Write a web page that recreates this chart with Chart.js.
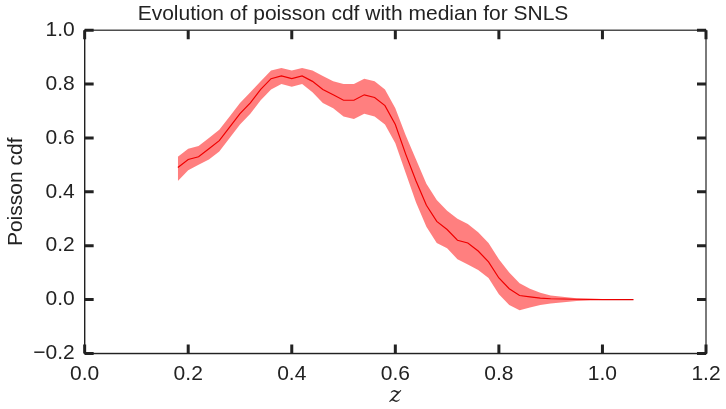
<!DOCTYPE html>
<html>
<head>
<meta charset="utf-8">
<script src="https://cdn.jsdelivr.net/npm/chart.js@4"></script>
<style>
html, body { margin: 0; padding: 0; background: #fff; }
#wrap { width: 726px; height: 409px; }
</style>
</head>
<body>
<div id="wrap"><canvas id="c"></canvas></div>
<script>
const zValues = [0.18,0.20,0.22,0.24,0.26,0.28,0.30,0.32,0.34,0.36,0.38,0.40,0.42,0.44,0.46,0.48,0.50,0.52,0.54,0.56,0.58,0.60,0.62,0.64,0.66,0.68,0.70,0.72,0.74,0.76,0.78,0.80,0.82,0.84,0.86,0.88,0.90,0.95,1.00,1.06];
const medianCdf = [0.49,0.52,0.53,0.56,0.59,0.64,0.69,0.73,0.78,0.82,0.83,0.82,0.83,0.81,0.78,0.76,0.74,0.74,0.76,0.75,0.72,0.65,0.54,0.44,0.35,0.29,0.26,0.22,0.21,0.18,0.14,0.08,0.04,0.015,0.01,0.005,0.003,0.001,0.0,0.0];
const upperCdf = [0.53,0.56,0.57,0.60,0.63,0.68,0.73,0.77,0.81,0.85,0.86,0.85,0.86,0.85,0.83,0.81,0.80,0.80,0.82,0.81,0.78,0.71,0.61,0.52,0.43,0.37,0.33,0.30,0.28,0.25,0.21,0.15,0.10,0.06,0.04,0.025,0.015,0.005,0.002,0.0];
const lowerCdf = [0.44,0.48,0.50,0.52,0.55,0.60,0.65,0.69,0.74,0.78,0.80,0.79,0.80,0.77,0.73,0.71,0.68,0.67,0.69,0.68,0.65,0.58,0.47,0.36,0.27,0.21,0.19,0.15,0.13,0.11,0.08,0.02,-0.02,-0.04,-0.03,-0.02,-0.015,-0.005,-0.002,0.0];
const xTicks = [0.0,0.2,0.4,0.6,0.8,1.0,1.2];
const yTicks = [-0.2,0.0,0.2,0.4,0.6,0.8,1.0];

const pts = arr => zValues.map((z, i) => ({ x: z, y: arr[i] }));

// inward ticks on all four sides, matplotlib classic style
const tickMarks = {
  id: 'tickMarks',
  afterDraw(chart) {
    const { ctx, chartArea: a, scales: { x, y } } = chart;
    ctx.save();
    ctx.strokeStyle = '#222';
    ctx.lineWidth = 3;
    ctx.beginPath();
    xTicks.forEach(v => {
      const px = x.getPixelForValue(v);
      ctx.moveTo(px, a.bottom); ctx.lineTo(px, a.bottom - 9);
      ctx.moveTo(px, a.top); ctx.lineTo(px, a.top + 9);
    });
    yTicks.forEach(v => {
      const py = y.getPixelForValue(v);
      ctx.moveTo(a.left, py); ctx.lineTo(a.left + 9, py);
      ctx.moveTo(a.right, py); ctx.lineTo(a.right - 9, py);
    });
    ctx.stroke();
    ctx.lineWidth = 1.2;
    ctx.strokeRect(a.left, a.top, a.right - a.left, a.bottom - a.top);
    ctx.restore();
  }
};

new Chart(document.getElementById('c'), {
  type: 'line',
  data: {
    datasets: [
      { data: pts(upperCdf), borderWidth: 0, pointRadius: 0, fill: '+1', backgroundColor: 'rgba(255,0,0,0.5)', tension: 0 },
      { data: pts(lowerCdf), borderWidth: 0, pointRadius: 0, fill: false, tension: 0 },
      { data: pts(medianCdf), borderColor: '#e00000', borderWidth: 1.2, pointRadius: 0, fill: false, tension: 0 }
    ]
  },
  options: {
    responsive: true,
    maintainAspectRatio: false,
    animation: false,
    layout: { padding: { right: 20, top: 0 } },
    plugins: {
      legend: { display: false },
      tooltip: { enabled: false },
      title: {
        display: true,
        text: 'Evolution of poisson cdf with median for SNLS',
        color: '#222',
        font: { family: 'Liberation Sans', size: 21, weight: 'normal' },
        padding: { top: 2, bottom: 3 }
      }
    },
    scales: {
      x: {
        type: 'linear', min: 0, max: 1.2,
        grid: { display: false },
        border: { color: '#222', width: 1.2 },
        afterBuildTicks: s => { s.ticks = xTicks.map(v => ({ value: v })); },
        ticks: { color: '#222', font: { family: 'Liberation Sans', size: 21 }, callback: v => v.toFixed(1), maxRotation: 0, padding: 0 },
        title: { display: true, text: 'z', color: '#222', font: { family: 'DejaVu Serif', size: 22, style: 'italic' }, padding: { top: -4, bottom: 0 } }
      },
      y: {
        type: 'linear', min: -0.2, max: 1.0,
        grid: { display: false },
        border: { color: '#222', width: 1.2 },
        afterBuildTicks: s => { s.ticks = yTicks.map(v => ({ value: v })); },
        ticks: { color: '#222', font: { family: 'Liberation Sans', size: 21 }, callback: v => (v < 0 ? '\u2212' + Math.abs(v).toFixed(1) : v.toFixed(1)), padding: 2 },
        title: { display: true, text: 'Poisson cdf', color: '#222', font: { family: 'Liberation Sans', size: 21 }, padding: { bottom: 2 } }
      }
    }
  },
  plugins: [tickMarks]
});
</script>
</body>
</html>
